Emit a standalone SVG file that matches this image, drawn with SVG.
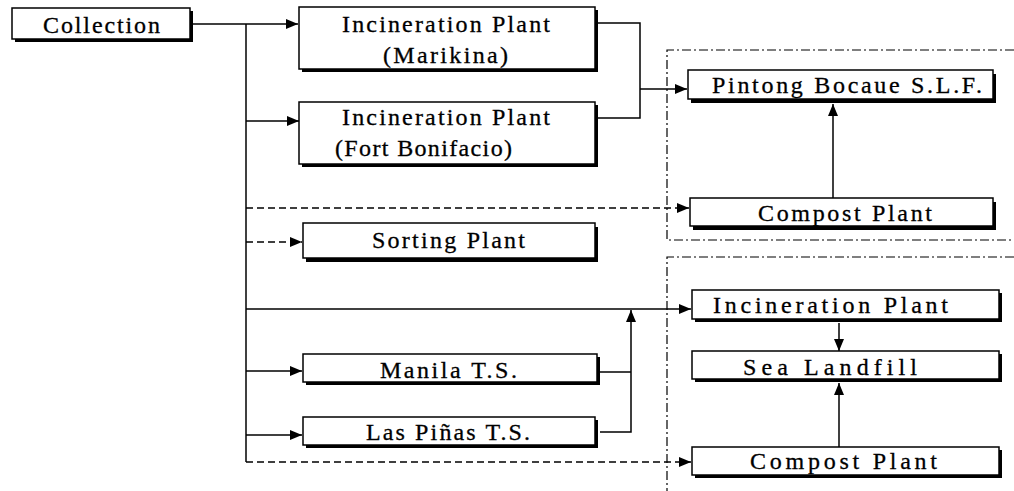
<svg xmlns="http://www.w3.org/2000/svg" width="1014" height="491" viewBox="0 0 1014 491">
<style>
.bx{fill:#fff;stroke:#000;stroke-width:1.5}
.sh{fill:#000}
.t{font-family:"Liberation Serif","Times New Roman",serif;font-size:24px;fill:#000;stroke:#000;stroke-width:0.3}
.c{fill:none;stroke:#000;stroke-width:1.5}
.d{fill:none;stroke:#000;stroke-width:1.3;stroke-dasharray:7 4}
.dd{fill:none;stroke:#000;stroke-width:1.2;stroke-dasharray:9 3 2 3}
</style>
<defs>
<marker id="ah" markerUnits="userSpaceOnUse" markerWidth="12" markerHeight="10" refX="12" refY="5" orient="auto">
<path d="M0,0 L12,5 L0,10 z" fill="#000"/>
</marker>
</defs>
<rect width="1014" height="491" fill="#fff"/>
<g id="zones">
<path class="dd" d="M1014,50 H667 V240 H1014"/>
<path class="dd" d="M1014,257 H667 V491"/>
</g>
<g id="connectors">
<path class="c" d="M193,24 H298" marker-end="url(#ah)"/>
<path class="c" d="M246,24 V462"/>
<path class="c" d="M246,121 H299" marker-end="url(#ah)"/>
<path class="d" d="M246,208 H689" marker-end="url(#ah)"/>
<path class="d" d="M246,242 H302" marker-end="url(#ah)"/>
<path class="c" d="M246,309 H691" marker-end="url(#ah)"/>
<path class="c" d="M246,371 H302" marker-end="url(#ah)"/>
<path class="c" d="M246,435 H302" marker-end="url(#ah)"/>
<path class="d" d="M246,462 H691" marker-end="url(#ah)"/>
<path class="c" d="M598,23 H640 V118 H598"/>
<path class="c" d="M640,89 H687" marker-end="url(#ah)"/>
<path class="c" d="M600,372 H631"/>
<path class="c" d="M600,432 H631 V310" marker-end="url(#ah)"/>
<path class="c" d="M833,198 V104" marker-end="url(#ah)"/>
<path class="c" d="M839,323 V351" marker-end="url(#ah)"/>
<path class="c" d="M839,447 V383" marker-end="url(#ah)"/>
</g>
<g id="collection">
<rect class="sh" x="15" y="11" width="178" height="31"/>
<rect class="bx" x="12" y="8" width="178" height="31"/>
<text class="t" x="43" y="33" textLength="117" lengthAdjust="spacing">Collection</text>
</g>
<g id="incineration-marikina">
<rect class="sh" x="302" y="10" width="296" height="62"/>
<rect class="bx" x="299" y="7" width="296" height="62"/>
<text class="t" x="342" y="32" textLength="208" lengthAdjust="spacing">Incineration Plant</text>
<text class="t" x="383" y="63" textLength="125" lengthAdjust="spacing">(Marikina)</text>
</g>
<g id="incineration-fort-bonifacio">
<rect class="sh" x="302" y="105" width="296" height="62"/>
<rect class="bx" x="299" y="102" width="296" height="62"/>
<text class="t" x="342" y="125" textLength="208" lengthAdjust="spacing">Incineration Plant</text>
<text class="t" x="335" y="156" textLength="177" lengthAdjust="spacing">(Fort Bonifacio)</text>
</g>
<g id="pintong-bocaue">
<rect class="sh" x="691" y="74" width="305" height="29"/>
<rect class="bx" x="688" y="70" width="305" height="29"/>
<text class="t" x="712" y="93" textLength="270" lengthAdjust="spacing">Pintong Bocaue S.L.F.</text>
</g>
<g id="compost-plant-1">
<rect class="sh" x="693" y="202" width="303" height="28"/>
<rect class="bx" x="690" y="198" width="303" height="28"/>
<text class="t" x="758" y="221" textLength="174" lengthAdjust="spacing">Compost Plant</text>
</g>
<g id="sorting-plant">
<rect class="sh" x="306" y="227" width="292" height="35"/>
<rect class="bx" x="303" y="223" width="292" height="35"/>
<text class="t" x="372" y="248" textLength="153" lengthAdjust="spacing">Sorting Plant</text>
</g>
<g id="manila-ts">
<rect class="sh" x="306" y="357" width="294" height="28"/>
<rect class="bx" x="303" y="354" width="294" height="28"/>
<text class="t" x="380" y="378" textLength="137" lengthAdjust="spacing">Manila T.S.</text>
</g>
<g id="las-pinas-ts">
<rect class="sh" x="306" y="420" width="292" height="28"/>
<rect class="bx" x="303" y="417" width="292" height="28"/>
<text class="t" x="366" y="440" textLength="164" lengthAdjust="spacing">Las Piñas T.S.</text>
</g>
<g id="incineration-plant">
<rect class="sh" x="695" y="293" width="307" height="29"/>
<rect class="bx" x="692" y="290" width="307" height="29"/>
<text class="t" x="713" y="313" textLength="235" lengthAdjust="spacing">Incineration Plant</text>
</g>
<g id="sea-landfill">
<rect class="sh" x="695" y="354" width="307" height="28"/>
<rect class="bx" x="692" y="351" width="307" height="28"/>
<text class="t" x="743" y="375" textLength="174" lengthAdjust="spacing">Sea Landfill</text>
</g>
<g id="compost-plant-2">
<rect class="sh" x="695" y="450" width="307" height="28"/>
<rect class="bx" x="692" y="447" width="307" height="28"/>
<text class="t" x="750" y="469" textLength="187" lengthAdjust="spacing">Compost Plant</text>
</g>
</svg>
